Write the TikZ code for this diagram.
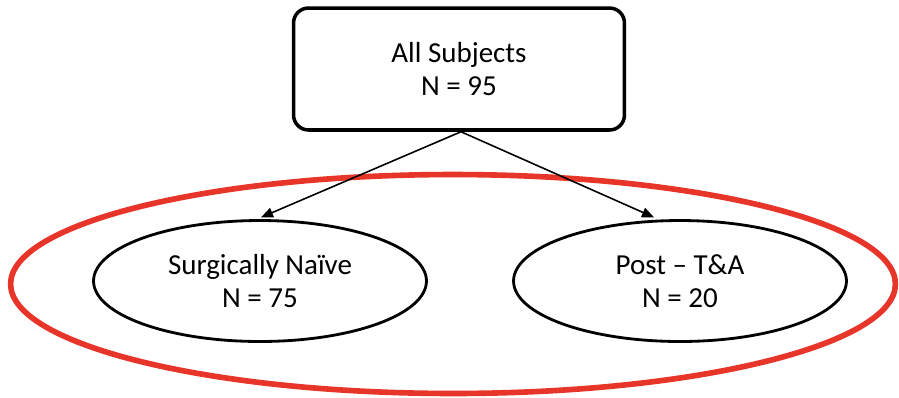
\documentclass[tikz,border=0pt]{standalone}
\usepackage{fontspec}
\setmainfont{Carlito}
\usepackage{tikz}
\usetikzlibrary{positioning, arrows.meta, shapes.geometric}
\usepackage{xcolor}
\definecolor{Outline}{HTML}{E8352A}

\begin{document}
\begin{tikzpicture}[x=0.02cm, y=-0.02cm,
    txt/.style={font=\fontsize{16.5}{19}\selectfont, align=center},
    rootbox/.style={txt, draw, line width=2pt, rounded corners=0.3cm, minimum width=6.62cm, minimum height=2.44cm},
    subgroup/.style={txt, draw, ellipse, line width=1.6pt, minimum width=6.66cm, minimum height=2.42cm, inner sep=0pt},
    cohort/.style={draw=Outline, ellipse, line width=3.2pt, minimum width=17.7cm, minimum height=4.38cm, inner sep=0pt},
    link/.style={line width=0.9pt, -{Triangle[length=2.4mm, width=2mm]}, shorten >=2.5pt}
]
\useasboundingbox (0,0) rectangle (899,397);

% Outer red ring
\node[cohort] (ring) at (453,284) {};

% Top box
\node[rootbox] (all) at (459,69) {All Subjects\\N = 95};

% Subgroups
\node[subgroup] (naive) at (260,281) {Surgically Naïve\\N = 75};
\node[subgroup] (post) at (680,281) {Post -- T\&A\\N = 20};

% Arrows
\draw[link] ([xshift=0.04cm]all.south) -- ([xshift=-0.06cm]naive.north);
\draw[link] ([xshift=0.04cm]all.south) -- ([xshift=-0.44cm]post.north);

\end{tikzpicture}
\end{document}
